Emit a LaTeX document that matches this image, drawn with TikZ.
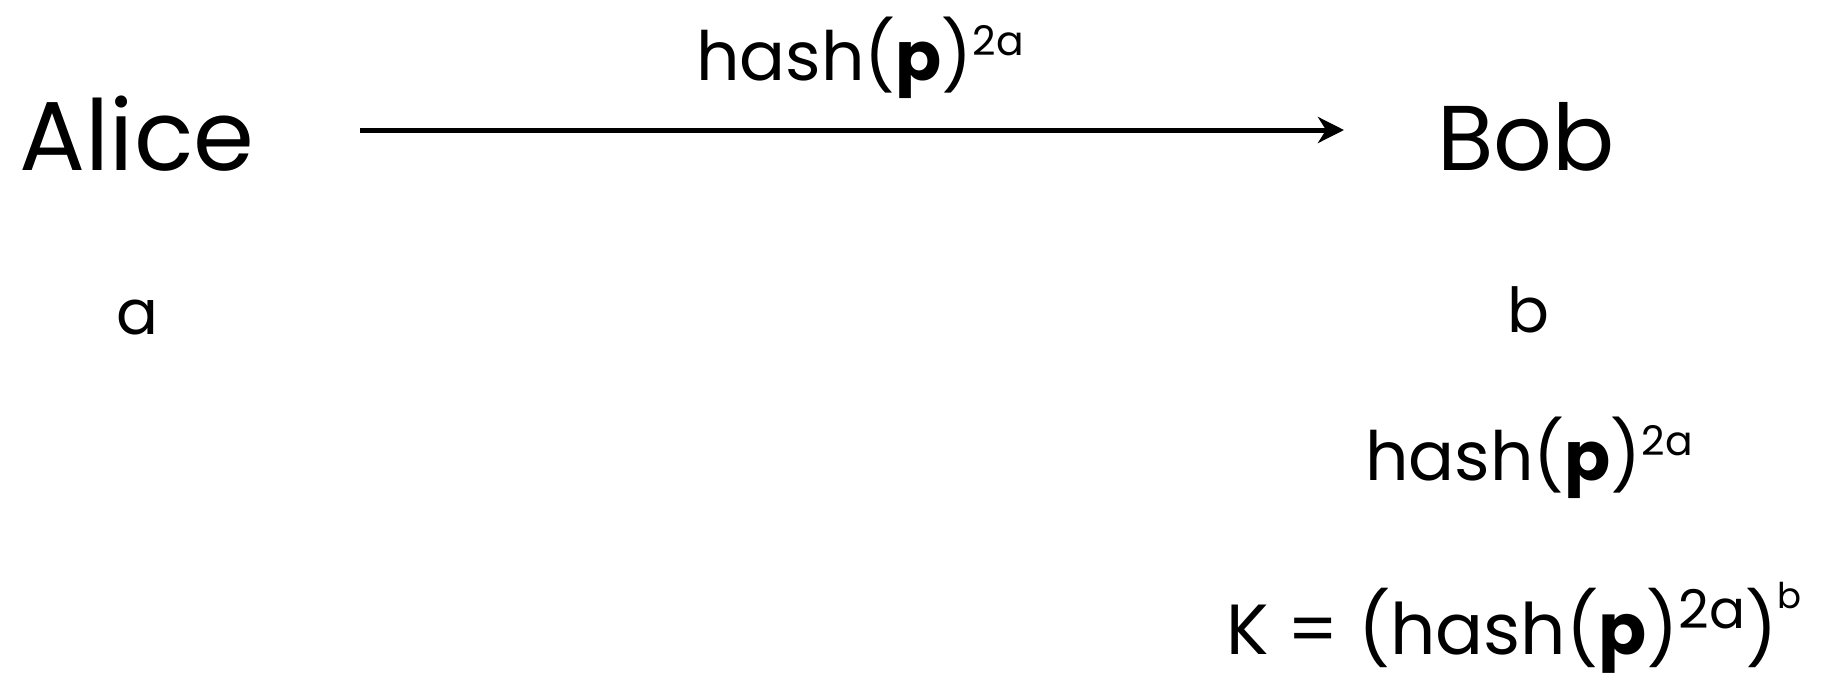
\documentclass[tikz,border=0pt]{standalone}
\usepackage{graphicx}
\usepackage{fontspec}
\setmainfont{Poppins}
\usetikzlibrary{arrows.meta}
\newcommand\upsc[3]{\raisebox{#1em}{\scalebox{#2}{#3}}}
\begin{document}
\begin{tikzpicture}[x=1pt,y=-1pt,
  big/.style={inner sep=0pt,anchor=base,font=\fontsize{92}{100}\selectfont},
  mid/.style={inner sep=0pt,anchor=base,font=\fontsize{68}{76}\selectfont},
  small/.style={inner sep=0pt,anchor=base,font=\fontsize{62}{70}\selectfont},
  msg/.style={line width=5pt,-{Stealth[length=26pt,width=26pt,inset=8pt]}}]
\useasboundingbox (0,0) rectangle (1837,678);
\node[big,font=\fontsize{98}{104}\selectfont] (alice) at (137,170) {Alice};
\node[big] (bob) at (1526,170) {Bob};
\node[small] (a) at (137,334) {a};
\node[small] (b) at (1528,332) {b};
\coordinate (s) at (360,130);
\coordinate (e) at (1344,130);
\draw[msg] (s) -- (e);
\node[mid] (lbl) at (860,80) {hash(\textbf{p})\upsc{0.36}{0.6}{2a}};
\node[mid] (h2) at (1529,480) {hash(\textbf{p})\upsc{0.36}{0.6}{2a}};
\node[mid,font=\fontsize{71}{78}\selectfont] (k) at (1514,654) {K = (hash(\textbf{p})\upsc{0.36}{0.75}{2a})\upsc{0.64}{0.5}{b}};
\end{tikzpicture}
\end{document}
